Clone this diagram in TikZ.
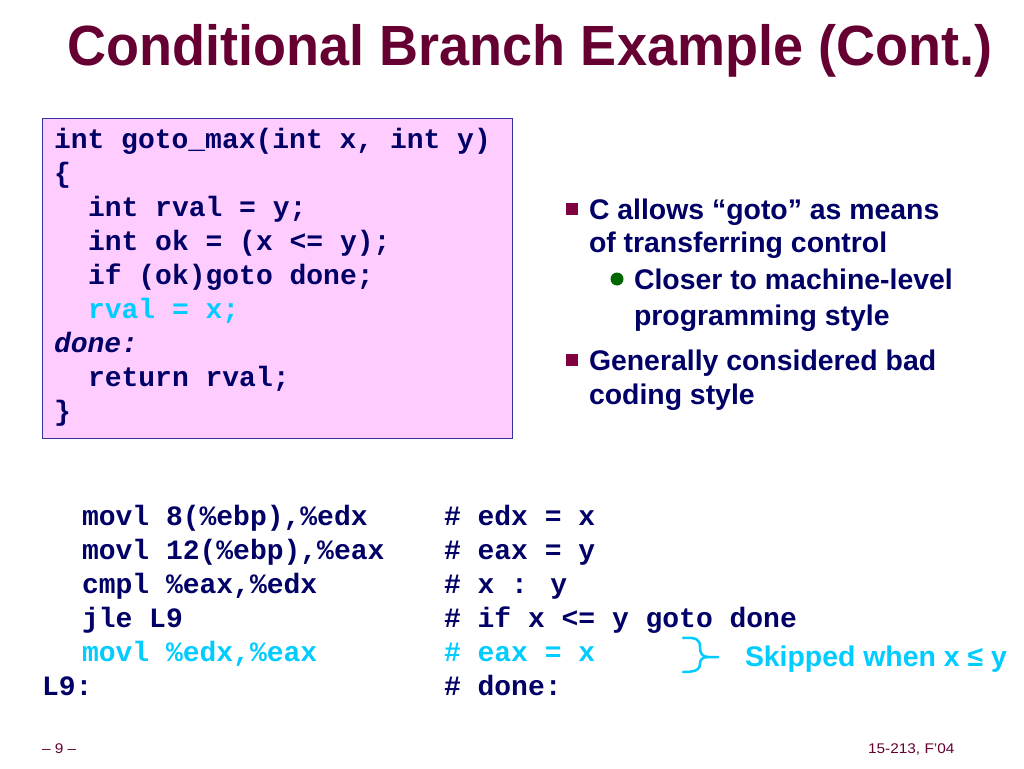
\documentclass[tikz,border=0pt]{standalone}
\usepackage{fontspec}
\setmainfont{Liberation Sans}
\newfontfamily\codefont{Liberation Mono}
\definecolor{titlecol}{HTML}{660033}
\definecolor{navy}{HTML}{000066}
\definecolor{pinkfill}{HTML}{FFCCFF}
\definecolor{boxline}{HTML}{333399}
\definecolor{skipcol}{HTML}{00CCFF}
\definecolor{sqcol}{HTML}{800040}
\definecolor{dotcol}{HTML}{006600}
\begin{document}
\begin{tikzpicture}[x=1pt,y=-1pt,
  every node/.style={inner sep=0pt, outer sep=0pt},
  code/.style={anchor=base west, font=\codefont\bfseries\fontsize{28}{28}\selectfont, text=navy},
  codeskip/.style={code, text=skipcol},
  bul/.style={anchor=base west, font=\bfseries\fontsize{28.4}{28.4}\selectfont, text=navy},
  foot/.style={anchor=base west, font=\fontsize{14}{14}\selectfont, text=titlecol, xscale=1.1}]
\useasboundingbox (0,0) rectangle (1024,768);
\fill[white] (0,0) rectangle (1024,768);
% title
\node[font=\bfseries\fontsize{54}{54}\selectfont, text=titlecol, anchor=base, yscale=1.05] (title) at (530,65) {Conditional Branch Example (Cont.)};
% code box
\draw[boxline, fill=pinkfill, line width=1pt] (42,118) rectangle (512,438);
\node[code] (c1) at (54,148) {int goto\_max(int x, int y)};
\node[code] (c2) at (54,182) {\{};
\node[code] (c3) at (88,216) {int rval = y;};
\node[code] (c4) at (88,250) {int ok = (x <= y);};
\node[code] (c5) at (88,284) {if (ok)goto done;};
\node[codeskip] (c6) at (88,318) {rval = x;};
\node[code] (c7) at (54,352) {\itshape done:};
\node[code] (c8) at (88,386) {return rval;};
\node[code] (c9) at (54,420) {\}};
% bullets
\fill[sqcol] (566,203) rectangle (578,215);
\node[bul] (b1) at (589,219) {C allows “goto” as means};
\node[bul] (b1b) at (589,252) {of transferring control};
\fill[dotcol] (617,279) circle (6.5);
\node[bul] (b2) at (634,289) {Closer to machine-level};
\node[bul] (b2b) at (634,325) {programming style};
\fill[sqcol] (566,354) rectangle (578,366);
\node[bul] (b3) at (589,370) {Generally considered bad};
\node[bul] (b3b) at (589,404) {coding style};
% assembly
\node[code] (a1) at (82,525) {movl 8(\%ebp),\%edx};
\node[code] (a2) at (82,559) {movl 12(\%ebp),\%eax};
\node[code] (a3) at (82,593) {cmpl \%eax,\%edx};
\node[code] (a4) at (82,627) {jle L9};
\node[codeskip] (a5) at (82,661) {movl \%edx,\%eax};
\node[code] (a6) at (42,695) {L9:};
\node[code] (m1) at (444,525) {\# edx = x};
\node[code] (m2) at (444,559) {\# eax = y};
\node[code] (m3) at (444,593) {\# x : y};
\node[code] (m4) at (444,627) {\# if x <= y goto done};
\node[codeskip] (m5) at (444,661) {\# eax = x};
\node[code] (m6) at (444,695) {\# done:};
% brace and label
\coordinate (brtop) at (683,638);
\coordinate (brbot) at (683,672);
\node[bul, text=skipcol] (skip) at (745,666) {Skipped when x ≤ y};
\draw[skipcol, line width=2.5pt, line cap=round]
  (brtop) .. controls (697,637) and (700,640) .. (700,647)
  .. controls (700,653) and (702,657) .. (708,657) -- (718,657);
\draw[skipcol, line width=2.5pt, line cap=round]
  (brbot) .. controls (697,672) and (700,669) .. (700,664)
  .. controls (700,660) and (702,657) .. (708,657);
% footer
\node[foot] (pg) at (42,753) {– 9 –};
\node[foot] (course) at (868,753) {15-213, F’04};
\end{tikzpicture}
\end{document}
